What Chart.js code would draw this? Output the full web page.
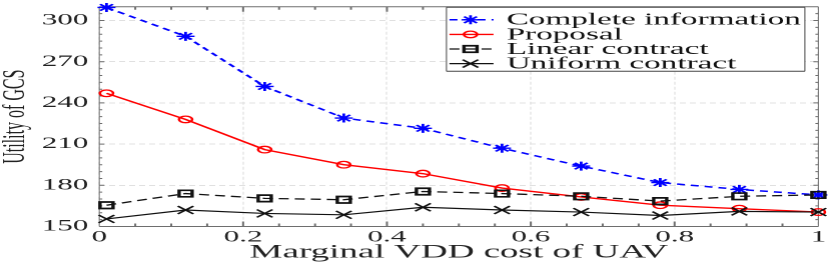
<!DOCTYPE html>
<html>
<head>
<meta charset="utf-8">
<script src="https://cdn.jsdelivr.net/npm/chart.js@4/dist/chart.umd.min.js"></script>
<style>
html,body{margin:0;padding:0;background:#fff;overflow:hidden}
#wrap{width:415.5px;height:262px;transform:scaleX(2);transform-origin:0 0}
</style>
</head>
<body>
<div id="wrap"><canvas id="c"></canvas></div>
<script>
// marginal VDD cost of UAV
const costs=[0.01,0.12,0.23,0.34,0.45,0.56,0.67,0.78,0.89,1.0];
const completeInfo=[309.5,288.5,252,229,221.5,207,194,182,177,173];
const proposal=[247,228,206,195,188.5,178,171.5,165.5,163,160.5];
const linearContract=[165.5,174,170.5,169.5,175.5,174,172,168.5,172,173];
const uniformContract=[155.5,162,159.5,158.5,164,162,160.5,158,161,160.5];
const seriesNames=['Complete information','Proposal','Linear contract','Uniform contract'];
const xTicks=[0,0.2,0.4,0.6,0.8,1];
const yTicks=[150,180,210,240,270,300];

const serif="'Liberation Serif','Times New Roman',serif";
const pts=arr=>arr.map((v,i)=>({x:costs[i],y:v}));

// box + inward minor/major ticks, matlab style
const frame={id:'frame',beforeDatasetsDraw(chart){
 const {ctx,chartArea:a,scales:{x,y}}=chart;
 ctx.save();
 ctx.strokeStyle='#6e6e6e';
 ctx.lineWidth=1;
 ctx.beginPath();
 ctx.moveTo(a.left,a.top);ctx.lineTo(a.right,a.top);
 ctx.moveTo(a.left,a.bottom);ctx.lineTo(a.right,a.bottom);
 for(let k=1;k<20;k++){
  const v=k*0.05, px=x.getPixelForValue(v);
  const L=xTicks.some(t=>Math.abs(t-v)<1e-6)?5:3;
  ctx.moveTo(px,a.bottom);ctx.lineTo(px,a.bottom-L);
  ctx.moveTo(px,a.top);ctx.lineTo(px,a.top+L);
 }
 ctx.stroke();
 ctx.lineWidth=0.5;
 ctx.beginPath();
 ctx.moveTo(a.left,a.top);ctx.lineTo(a.left,a.bottom);
 ctx.moveTo(a.right,a.top);ctx.lineTo(a.right,a.bottom);
 ctx.stroke();
 ctx.lineWidth=1;
 ctx.beginPath();
 for(let v=155;v<310;v+=5){
  const py=y.getPixelForValue(v);
  const L=yTicks.includes(v)?2.5:1.5;
  ctx.moveTo(a.left,py);ctx.lineTo(a.left+L,py);
  ctx.moveTo(a.right,py);ctx.lineTo(a.right-L,py);
 }
 ctx.stroke();
 ctx.restore();
}};

const legendBox={id:'legendBox',afterDraw(chart){
 const {ctx,chartArea:a}=chart;
 const x0=a.right-185.75,y0=a.top+0.5,w=179,h=64;
 ctx.save();
 ctx.fillStyle='#fff';
 ctx.fillRect(x0,y0,w,h);
 ctx.strokeStyle='#444';
 ctx.lineWidth=1;
 ctx.beginPath();ctx.moveTo(x0,y0);ctx.lineTo(x0+w,y0);ctx.moveTo(x0,y0+h);ctx.lineTo(x0+w,y0+h);ctx.stroke();
 ctx.lineWidth=0.5;
 ctx.beginPath();ctx.moveTo(x0,y0);ctx.lineTo(x0,y0+h);ctx.moveTo(x0+w,y0);ctx.lineTo(x0+w,y0+h);ctx.stroke();
 chart.data.datasets.forEach((ds,i)=>{
  const cy=y0+12.5+i*14.6;
  ctx.save();
  ctx.strokeStyle=ds.borderColor;
  ctx.lineWidth=ds.borderWidth;
  ctx.setLineDash(ds.borderDash||[]);
  ctx.beginPath();ctx.moveTo(x0+1.5,cy);ctx.lineTo(x0+23.5,cy);ctx.stroke();
  ctx.setLineDash([]);
  ctx.lineWidth=ds.pointBorderWidth;
  ctx.fillStyle=ds.pointBackgroundColor;
  Chart.helpers.drawPoint(ctx,{pointStyle:ds.pointStyle,radius:ds.pointRadius,rotation:0,borderWidth:ds.pointBorderWidth},x0+12,cy);
  ctx.restore();
  ctx.fillStyle='#111';
  ctx.font='16.6px '+serif;
  ctx.textBaseline='middle';
  ctx.textAlign='left';
  ctx.fillText(seriesNames[i],x0+30,cy+0.5);
 });
 ctx.restore();
}};

new Chart(document.getElementById('c'),{
 type:'line',
 data:{datasets:[
  {label:seriesNames[0],data:pts(completeInfo),borderColor:'#0000ff',borderWidth:1.5,borderDash:[4,3],
   pointStyle:'star',pointRadius:4.5,pointBorderWidth:1.4,pointBackgroundColor:'transparent',pointBorderColor:'#0000ff',order:4,clip:false},
  {label:seriesNames[1],data:pts(proposal),borderColor:'#ff0000',borderWidth:1.4,
   pointStyle:'circle',pointRadius:3.3,pointBorderWidth:1.3,pointBackgroundColor:'transparent',pointBorderColor:'#ff0000',order:3,clip:false},
  {label:seriesNames[2],data:pts(linearContract),borderColor:'#111',borderWidth:1.3,borderDash:[5,3],
   pointStyle:'rect',pointRadius:4.6,pointBorderWidth:1.7,pointBackgroundColor:'transparent',pointBorderColor:'#111',order:2,clip:false},
  {label:seriesNames[3],data:pts(uniformContract),borderColor:'#111',borderWidth:1.2,
   pointStyle:'crossRot',pointRadius:5.5,pointBorderWidth:1.3,pointBackgroundColor:'transparent',pointBorderColor:'#111',order:1,clip:false}
 ]},
 options:{
  responsive:true,maintainAspectRatio:false,animation:false,devicePixelRatio:2,
  layout:{padding:{top:4.5,right:5.75,left:0,bottom:0}},
  plugins:{legend:{display:false},tooltip:{enabled:false}},
  elements:{line:{tension:0}},
  scales:{
   x:{type:'linear',min:0,max:1,
    afterBuildTicks:s=>{s.ticks=xTicks.map(v=>({value:v}))},
    afterFit:s=>{s.height=35.5;s.paddingLeft=0;s.paddingRight=0},
    grid:{color:'#e0e0e0',lineWidth:0.6,drawTicks:false},
    border:{display:false,dash:[3,2]},
    ticks:{padding:1.5,color:'#222',font:{family:serif,size:15.5},callback:v=>String(+v.toFixed(1))},
    title:{display:true,text:'Marginal VDD cost of UAV',color:'#222',font:{family:serif,size:18.5,lineHeight:1},padding:{top:0,bottom:0}}
   },
   y:{type:'linear',min:150,max:310,
    afterBuildTicks:s=>{s.ticks=yTicks.map(v=>({value:v}))},
    afterFit:s=>{s.width=49.6;s.paddingTop=0;s.paddingBottom=0},
    grid:{color:'#e0e0e0',lineWidth:1,drawTicks:false},
    border:{display:false,dash:[3,2]},
    ticks:{padding:5.5,color:'#222',font:{family:serif,size:15.5}},
    title:{display:true,text:'Utility of GCS',color:'#222',font:{family:serif,size:16,lineHeight:1},padding:{top:0,bottom:0}}
   }
  }
 },
 plugins:[frame,legendBox]
});
</script>
</body>
</html>
